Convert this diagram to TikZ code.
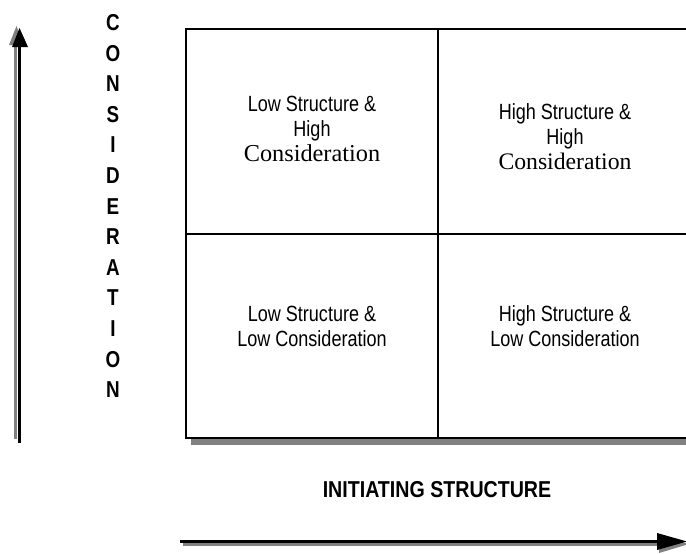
\documentclass[tikz,border=0pt]{standalone}
\usepackage{fontspec}
\setmainfont{Liberation Sans}
\newfontfamily\serifc{Liberation Serif}
\newcommand{\consline}[1]{\scalebox{1.2195}[1]{\serifc\fontsize{#1}{25}\selectfont Consideration}}
\begin{document}
\begin{tikzpicture}[x=1pt,y=-1pt,
  quad/.style={draw=black,line width=1.6pt,fill=white,minimum width=252pt,minimum height=205pt,inner sep=0pt,outer sep=0pt},
  qtext/.style={align=center,font=\fontsize{22}{25}\selectfont,inner sep=0pt,xscale=0.82,transform shape},
  axislab/.style={font=\bfseries\fontsize{23}{22}\selectfont,inner sep=0pt,xscale=0.82,transform shape},
  shadowc/.style={fill=black!50},
  arrline/.style={line width=3pt},
  shline/.style={line width=3pt,draw=black!50}]
\useasboundingbox (0,0) rectangle (686,554);
\clip (0,0) rectangle (686,554);
% shadow of grid
\fill[shadowc] (191,35) rectangle (705,445);
% quadrants
\node[quad,minimum width=252pt] (tl) at (312,131.5) {};
\node[quad,minimum width=254pt] (tr) at (565,131.5) {};
\node[quad,minimum width=252pt,minimum height=204pt] (bl) at (312,336) {};
\node[quad,minimum width=254pt,minimum height=204pt] (br) at (565,336) {};
% quadrant texts
\node[qtext] (tltext) at (312,129) {Low Structure \&\\High\\\consline{24.3}};
\node[qtext] (trtext) at (565,137) {High Structure \&\\High\\\consline{23.7}};
\node[qtext] (bltext) at (312,326.5) {Low Structure \&\\Low Consideration};
\node[qtext] (brtext) at (565,326.5) {High Structure \&\\Low Consideration};
% axis labels
\node[axislab,align=center,font=\bfseries\fontsize{23}{30.6}\selectfont] (consid) at (113,206) {C\\O\\N\\S\\I\\D\\E\\R\\A\\T\\I\\O\\N};
\node[axislab,xscale=1.04] (init) at (437,490) {INITIATING STRUCTURE};
% vertical arrow
\coordinate (vb) at (19.5,443);
\coordinate (vt) at (19.5,46);
\coordinate (vbs) at (15.5,439);
\coordinate (vts) at (15.5,46);
\draw[shline] (vbs) -- (vts);
\fill[black!50] (16.5,26) -- (9,45) -- (24,45) -- cycle;
\draw[arrline] (vb) -- (vt);
\fill[black] (19.5,28) -- (12,47) -- (28,47) -- cycle;
% horizontal arrow
\coordinate (hl) at (180,541.5);
\coordinate (hr) at (660,541.5);
\coordinate (hls) at (183,544.5);
\coordinate (hrs) at (660,544.5);
\draw[shline] (hls) -- (hrs);
\fill[black!50] (689,544) -- (659,536) -- (659,553) -- cycle;
\draw[arrline] (hl) -- (hr);
\fill[black] (687,541.5) -- (657,533) -- (657,550) -- cycle;
\end{tikzpicture}
\end{document}
